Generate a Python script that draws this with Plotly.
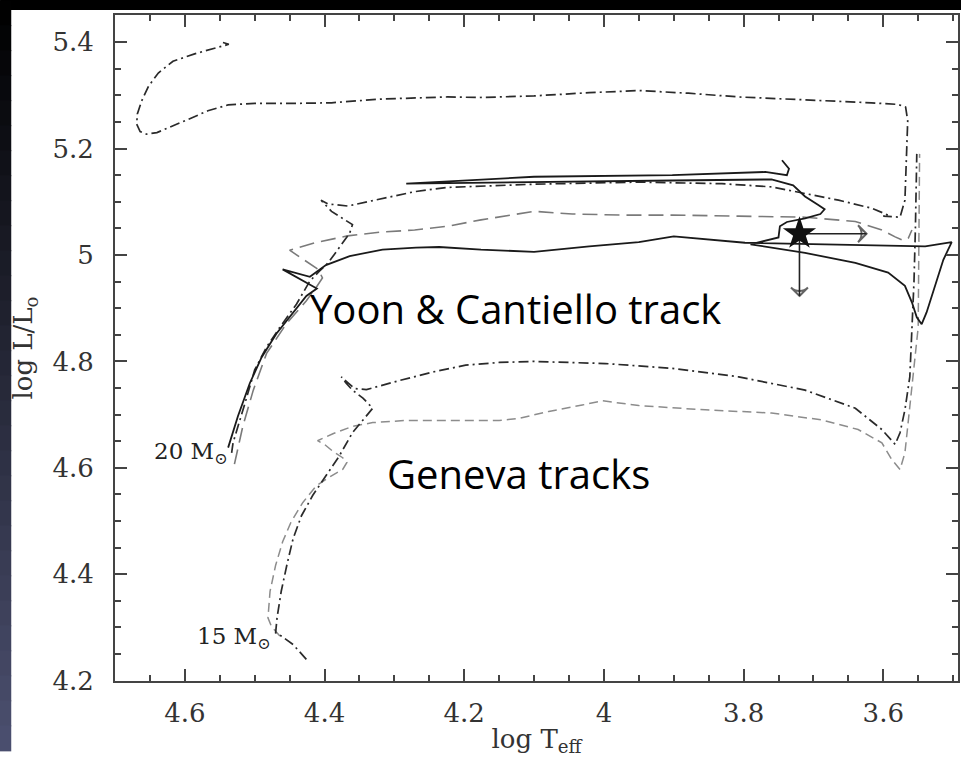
import plotly.graph_objects as go

# ---------------- data (log Teff, log L/Lsun) ----------------
# Yoon & Cantiello 20 Msun track (solid)
yc_logt = [4.538, 4.524, 4.507, 4.490, 4.469, 4.445, 4.426, 4.411, 4.460, 4.421,
           4.398, 4.364, 4.317, 4.269, 4.236, 4.176, 4.100, 4.021, 3.950, 3.900,
           3.855, 3.798, 3.540, 3.502, 3.514, 3.526, 3.538, 3.545, 3.552, 3.559,
           3.569, 3.593, 3.640, 3.712, 3.760, 3.790, 3.750, 3.748, 3.738, 3.712,
           3.690, 3.684, 3.693, 3.712, 3.729, 3.760, 3.902, 4.093, 4.283, 4.100,
           3.902, 3.769, 3.750, 3.738, 3.735, 3.745]
yc_logl = [4.638, 4.697, 4.759, 4.808, 4.852, 4.892, 4.923, 4.937, 4.973, 4.959,
           4.981, 4.998, 5.010, 5.014, 5.015, 5.010, 5.006, 5.016, 5.024, 5.035,
           5.030, 5.023, 5.016, 5.024, 4.991, 4.942, 4.892, 4.870, 4.883, 4.911,
           4.942, 4.967, 4.985, 5.004, 5.013, 5.020, 5.033, 5.054, 5.062, 5.069,
           5.077, 5.086, 5.094, 5.110, 5.131, 5.142, 5.140, 5.137, 5.134, 5.147,
           5.150, 5.156, 5.152, 5.150, 5.162, 5.178]

# Geneva 20 Msun, rotating (dash-dot)
g20r_logt = [4.533, 4.531, 4.514, 4.500, 4.483, 4.464, 4.440, 4.421, 4.407, 4.395,
             4.386, 4.374, 4.364, 4.360, 4.371, 4.390, 4.405, 4.395, 4.367, 4.319,
             4.271, 4.224, 4.100, 3.950, 3.831, 3.760, 3.712, 3.664, 3.617, 3.593,
             3.600, 3.576, 3.569, 3.567, 3.565, 3.568, 3.579, 3.617, 3.712, 3.807,
             3.879, 3.950, 4.021, 4.100, 4.176, 4.224, 4.319, 4.390, 4.438, 4.500,
             4.538, 4.567, 4.595, 4.621, 4.640, 4.655, 4.664, 4.669, 4.668, 4.662,
             4.652, 4.638, 4.617, 4.586, 4.557, 4.537, 4.547]
g20r_logl = [4.628, 4.647, 4.721, 4.784, 4.827, 4.864, 4.908, 4.951, 4.970, 4.985,
             5.001, 5.023, 5.041, 5.057, 5.066, 5.082, 5.103, 5.096, 5.092, 5.106,
             5.119, 5.127, 5.133, 5.137, 5.134, 5.128, 5.116, 5.103, 5.088, 5.075,
             5.073, 5.071, 5.103, 5.172, 5.252, 5.278, 5.283, 5.286, 5.291, 5.297,
             5.304, 5.309, 5.305, 5.299, 5.296, 5.297, 5.293, 5.286, 5.285, 5.285,
             5.282, 5.271, 5.255, 5.240, 5.230, 5.227, 5.232, 5.246, 5.265, 5.289,
             5.317, 5.342, 5.364, 5.378, 5.389, 5.396, 5.400]

# Geneva 20 Msun, non-rotating (grey dashed)
g20_logt = [4.529, 4.517, 4.502, 4.483, 4.455, 4.426, 4.412, 4.403, 4.409, 4.450,
            4.414, 4.367, 4.319, 4.271, 4.224, 4.176, 4.100, 4.045, 3.974, 3.902,
            3.807, 3.712, 3.640, 3.602, 3.583, 3.571, 3.564, 3.559]
g20_logl = [4.607, 4.678, 4.746, 4.815, 4.870, 4.914, 4.939, 4.957, 4.973, 5.009,
            5.023, 5.036, 5.043, 5.047, 5.054, 5.066, 5.082, 5.077, 5.075, 5.075,
            5.073, 5.071, 5.063, 5.047, 5.034, 5.027, 5.032, 5.047]

# Geneva 15 Msun, rotating (dash-dot)
g15r_logt = [4.426, 4.445, 4.462, 4.470, 4.468, 4.462, 4.454, 4.445, 4.433, 4.417,
             4.398, 4.379, 4.360, 4.343, 4.331, 4.345, 4.360, 4.369, 4.376, 4.357,
             4.340, 4.293, 4.245, 4.198, 4.150, 4.102, 4.055, 3.998, 3.902, 3.807,
             3.712, 3.640, 3.602, 3.583, 3.576, 3.569, 3.562, 3.559, 3.556, 3.554,
             3.552]
g15r_logl = [4.240, 4.268, 4.284, 4.290, 4.318, 4.368, 4.417, 4.467, 4.510, 4.548,
             4.585, 4.622, 4.666, 4.693, 4.712, 4.731, 4.746, 4.759, 4.771, 4.749,
             4.747, 4.764, 4.780, 4.793, 4.798, 4.800, 4.798, 4.796, 4.787, 4.771,
             4.746, 4.712, 4.672, 4.644, 4.666, 4.709, 4.771, 4.864, 4.950, 5.050,
             5.190]

# Geneva 15 Msun, non-rotating (grey dashed)
g15_logt = [4.464, 4.476, 4.481, 4.478, 4.470, 4.460, 4.448, 4.431, 4.412, 4.390,
            4.374, 4.368, 4.374, 4.388, 4.400, 4.410, 4.388, 4.360, 4.331, 4.283,
            4.221, 4.150, 4.121, 4.079, 4.031, 4.002, 3.950, 3.855, 3.760, 3.688,
            3.636, 3.602, 3.588, 3.576, 3.569, 3.562, 3.555, 3.550, 3.549, 3.548]
g15_logl = [4.284, 4.302, 4.318, 4.368, 4.417, 4.461, 4.498, 4.535, 4.566, 4.585,
            4.597, 4.610, 4.619, 4.631, 4.644, 4.651, 4.664, 4.678, 4.685, 4.689,
            4.689, 4.689, 4.693, 4.706, 4.718, 4.726, 4.717, 4.709, 4.703, 4.690,
            4.672, 4.647, 4.616, 4.597, 4.628, 4.709, 4.802, 4.864, 5.000, 5.190]

# observed star and its error arrows
star_logt = [3.72]
star_logl = [5.04]
arrow_right_logt = [3.72, 3.624]
arrow_right_logl = [5.04, 5.04]
arrow_down_logt = [3.72, 3.72]
arrow_down_logl = [5.04, 4.923]

x_ticks = [4.6, 4.4, 4.2, 4.0, 3.8, 3.6]
y_ticks = [4.2, 4.4, 4.6, 4.8, 5.0, 5.2, 5.4]

# ---------------- figure ----------------
W, H = 961, 757
ML, MR, MT, MB = 115, 1, 15, 70
PW, PH = W - ML - MR, H - MT - MB


def px2paper_x(px):
    return (px - ML) / PW


def py2paper_y(py):
    return (H - MB - py) / PH


fig = go.Figure()

DASHDOT = "10px,4px,2px,4px"


def add_track(x, y, color, width, dash):
    fig.add_trace(go.Scatter(x=x, y=y, mode="lines",
                             line=dict(color=color, width=width, dash=dash),
                             hoverinfo="skip", showlegend=False))


add_track(g15_logt, g15_logl, "#8c8c8c", 1.5, "9px,5px")
add_track(g20_logt, g20_logl, "#7a7a7a", 1.6, "15px,7px")
add_track(g15r_logt, g15r_logl, "#2a2a2a", 1.7, DASHDOT)
add_track(g20r_logt, g20r_logl, "#2a2a2a", 1.7, DASHDOT)
add_track(yc_logt, yc_logl, "#1a1a1a", 1.8, "solid")

# error arrows (line + open arrow head oriented along the segment)
for ax_, ay_ in ((arrow_right_logt, arrow_right_logl), (arrow_down_logt, arrow_down_logl)):
    fig.add_trace(go.Scatter(x=ax_, y=ay_, mode="lines+markers",
                             line=dict(color="#222", width=1.6),
                             marker=dict(symbol=["circle", "arrow-wide-open"], size=[0, 12],
                                         angleref="previous", color="#222",
                                         line=dict(color="#222", width=2)),
                             hoverinfo="skip", showlegend=False))

fig.add_trace(go.Scatter(x=star_logt, y=star_logl, mode="markers",
                         marker=dict(symbol="star", size=25, color="#111"),
                         hoverinfo="skip", showlegend=False))

# text labels
fig.add_annotation(x=4.424, y=4.900, xref="x", yref="y", text="Yoon &amp; Cantiello track",
                   showarrow=False, xanchor="left", yanchor="middle",
                   font=dict(family="Open Sans", size=40, color="#000"))
fig.add_annotation(x=4.314, y=4.589, xref="x", yref="y", text="Geneva tracks",
                   showarrow=False, xanchor="left", yanchor="middle",
                   font=dict(family="Open Sans", size=40, color="#000"))
fig.add_annotation(x=4.647, y=4.628, xref="x", yref="y", text="20 M<sub>⊙</sub>",
                   showarrow=False, xanchor="left", yanchor="middle",
                   font=dict(family="DejaVu Serif", size=23, color="#222"))
fig.add_annotation(x=4.586, y=4.280, xref="x", yref="y", text="15 M<sub>⊙</sub>",
                   showarrow=False, xanchor="left", yanchor="middle",
                   font=dict(family="DejaVu Serif", size=23, color="#222"))

# slide background decorations (dark frame at top and left)
shapes = [dict(type="rect", xref="paper", yref="paper", layer="below",
               x0=px2paper_x(0), x1=px2paper_x(W + 5), y0=py2paper_y(10), y1=py2paper_y(-5),
               fillcolor="#000000", line=dict(width=0))]
NB = 30
c0 = (0, 0, 0)
c1 = (76, 80, 112)
for i in range(NB):
    t = (i + 0.5) / NB
    col = "rgb(%d,%d,%d)" % tuple(int(a + (b - a) * t) for a, b in zip(c0, c1))
    y_top = H * i / NB
    y_bot = H * (i + 1) / NB
    shapes.append(dict(type="rect", xref="paper", yref="paper", layer="below",
                       x0=px2paper_x(-5), x1=px2paper_x(11),
                       y0=py2paper_y(y_bot + 1), y1=py2paper_y(y_top),
                       fillcolor=col, line=dict(width=0)))

fig.update_layout(width=W, height=H, margin=dict(l=ML, r=MR, t=MT, b=MB, pad=0),
                  paper_bgcolor="white", plot_bgcolor="white", showlegend=False,
                  shapes=shapes)

axis_common = dict(showline=True, linecolor="#444", linewidth=2, mirror="allticks",
                   ticks="inside", ticklen=12, tickwidth=2, tickcolor="#444",
                   showgrid=False, zeroline=False,
                   tickfont=dict(family="DejaVu Serif", size=26, color="#333"),
                   minor=dict(ticks="inside", ticklen=6, tickwidth=2, tickcolor="#444",
                              tick0=0, dtick=0.05, showgrid=False))

fig.update_xaxes(range=[4.70, 3.493], tickvals=x_ticks,
                 ticktext=[("%g" % v) for v in x_ticks], ticklabelstandoff=8,
                 title=dict(text="log T<sub>eff</sub>", standoff=10,
                            font=dict(family="DejaVu Serif", size=26, color="#333")),
                 **axis_common)
fig.update_yaxes(range=[4.1994, 5.451], tickvals=y_ticks,
                 ticktext=[("%g" % v) for v in y_ticks], ticklabelstandoff=14,
                 title=dict(text="log L/L<sub>o</sub>", standoff=12,
                            font=dict(family="DejaVu Serif", size=26, color="#333")),
                 **axis_common)

fig.write_html("out.html")
